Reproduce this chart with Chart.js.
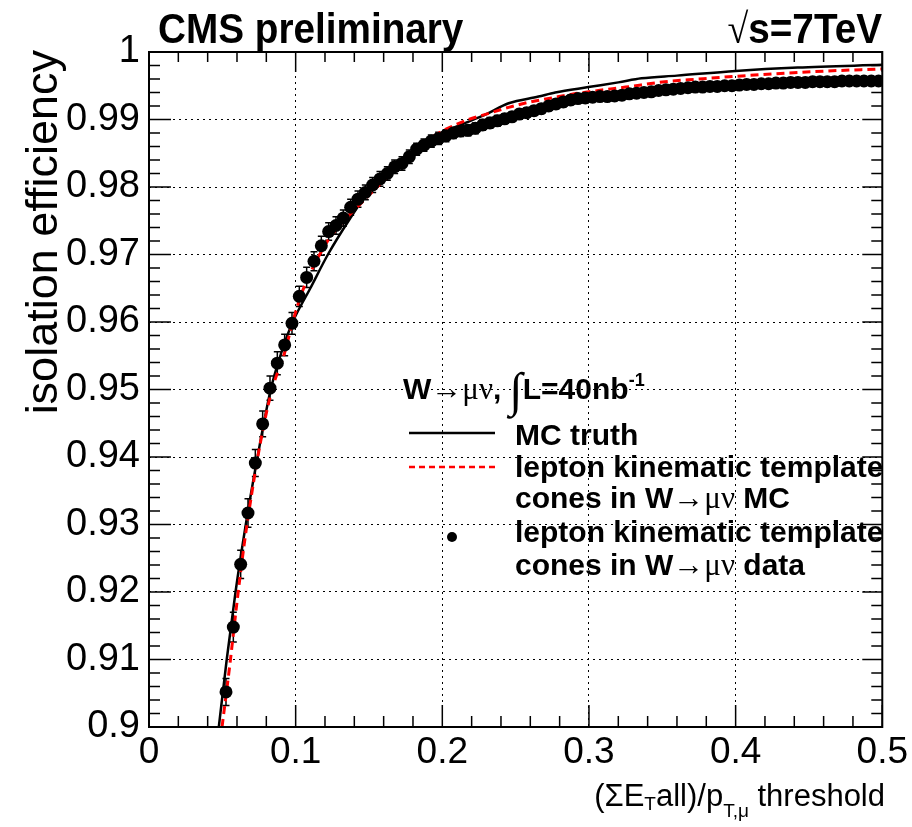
<!DOCTYPE html>
<html>
<head>
<meta charset="utf-8">
<script src="https://cdn.jsdelivr.net/npm/chart.js@4.4.1/dist/chart.umd.min.js"></script>
<style>
  html, body { margin: 0; padding: 0; background: #fff; }
</style>
</head>
<body>
<canvas id="myChart" width="912" height="827"></canvas>
<script>
// data points (lepton kinematic template cones in W->mu nu data)
const dataX = [0.0525, 0.0575, 0.0625, 0.0675, 0.0725, 0.0775, 0.0825, 0.0875, 0.0925, 0.0975,
  0.1025, 0.1075, 0.1125, 0.1175, 0.1225, 0.1275, 0.1325, 0.1375, 0.1425, 0.1475,
  0.1525, 0.1575, 0.1625, 0.1675, 0.1725, 0.1775, 0.1825, 0.1875, 0.1925, 0.1975,
  0.2025, 0.2075, 0.2125, 0.2175, 0.2225, 0.2275, 0.2325, 0.2375, 0.2425, 0.2475,
  0.2525, 0.2575, 0.2625, 0.2675, 0.2725, 0.2775, 0.2825, 0.2875, 0.2925, 0.2975,
  0.3025, 0.3075, 0.3125, 0.3175, 0.3225, 0.3275, 0.3325, 0.3375, 0.3425, 0.3475,
  0.3525, 0.3575, 0.3625, 0.3675, 0.3725, 0.3775, 0.3825, 0.3875, 0.3925, 0.3975,
  0.4025, 0.4075, 0.4125, 0.4175, 0.4225, 0.4275, 0.4325, 0.4375, 0.4425, 0.4475,
  0.4525, 0.4575, 0.4625, 0.4675, 0.4725, 0.4775, 0.4825, 0.4875, 0.4925, 0.4975];
const dataY = [0.9052, 0.9148, 0.9241, 0.9317, 0.9391, 0.9449, 0.9502, 0.9539, 0.9566, 0.9598,
  0.9638, 0.9666, 0.9690, 0.9713, 0.9734, 0.9743, 0.9754, 0.9770, 0.9782, 0.9792,
  0.9803, 0.9812, 0.9820, 0.9830, 0.9835, 0.9845, 0.9856, 0.9862, 0.9868, 0.9872,
  0.9876, 0.9880, 0.9883, 0.9884, 0.9887, 0.9892, 0.9895, 0.9898, 0.9901, 0.9904,
  0.9908, 0.9910, 0.9913, 0.9916, 0.9920, 0.9923, 0.9926, 0.9929, 0.9931, 0.9932,
  0.9933, 0.9934, 0.9934, 0.9935, 0.9936, 0.9938, 0.9939, 0.9940, 0.9941, 0.9943,
  0.9944, 0.9945, 0.9946, 0.9947, 0.9948, 0.9948, 0.9949, 0.9949, 0.9950, 0.9950,
  0.9951, 0.9952, 0.9952, 0.9953, 0.9953, 0.9954, 0.9954, 0.9955, 0.9955, 0.9955,
  0.9956, 0.9956, 0.9956, 0.9956, 0.9957, 0.9957, 0.9957, 0.9957, 0.9957, 0.9957];
const dataErr = [0.0020, 0.0022, 0.0021, 0.0021, 0.0020, 0.0019, 0.0018, 0.0017, 0.0016, 0.0016,
  0.0015, 0.0015, 0.0014, 0.0014, 0.0013, 0.0013, 0.0012, 0.0012, 0.0012, 0.0011,
  0.0011, 0.0011, 0.0010, 0.0010, 0.0010, 0.0010, 0.0009, 0.0009, 0.0009, 0.0009,
  0.0009, 0.0008, 0.0008, 0.0008, 0.0008, 0.0008, 0.0008, 0.0008, 0.0007, 0.0007,
  0.0007, 0.0007, 0.0007, 0.0007, 0.0007, 0.0007, 0.0007, 0.0007, 0.0007, 0.0007,
  0.0006, 0.0006, 0.0006, 0.0006, 0.0006, 0.0006, 0.0006, 0.0006, 0.0006, 0.0006,
  0.0006, 0.0006, 0.0006, 0.0006, 0.0006, 0.0006, 0.0006, 0.0006, 0.0006, 0.0006,
  0.0005, 0.0005, 0.0005, 0.0005, 0.0005, 0.0005, 0.0005, 0.0005, 0.0005, 0.0005,
  0.0005, 0.0005, 0.0005, 0.0005, 0.0005, 0.0005, 0.0005, 0.0005, 0.0005, 0.0005];

// MC truth curve
const truthX = [0.0476, 0.0530, 0.0590, 0.0660, 0.0740, 0.0830, 0.0900, 0.0980, 0.1100, 0.1220,
  0.1370, 0.1520, 0.1650, 0.1800, 0.1900, 0.2000, 0.2180, 0.2300, 0.2452, 0.2656,
  0.2770, 0.2996, 0.3200, 0.3358, 0.3600, 0.4000, 0.4423, 0.5000];
const truthY = [0.9000, 0.9100, 0.9200, 0.9300, 0.9400, 0.9500, 0.9553, 0.9600, 0.9650, 0.9700,
  0.9753, 0.9800, 0.9830, 0.9853, 0.9868, 0.9880, 0.9897, 0.9908, 0.9924, 0.9934,
  0.9940, 0.9948, 0.9955, 0.9961, 0.9965, 0.9972, 0.9977, 0.9981];

// lepton kinematic template cones in W->mu nu MC
const templX = [0.0498, 0.055, 0.060, 0.065, 0.070, 0.075, 0.080, 0.085, 0.0924, 0.098,
  0.1037, 0.1094, 0.1218, 0.1332, 0.1433, 0.150, 0.157, 0.165, 0.175, 0.185,
  0.1977, 0.210, 0.218, 0.230, 0.2452, 0.260, 0.2747, 0.290, 0.3064, 0.325,
  0.3517, 0.375, 0.400, 0.4536, 0.500];
const templY = [0.9000, 0.9090, 0.9185, 0.9272, 0.9345, 0.9410, 0.9465, 0.9508, 0.9554, 0.9600,
  0.9640, 0.9670, 0.9720, 0.9751, 0.9773, 0.9788, 0.9803, 0.9820, 0.9840, 0.9860,
  0.9880, 0.9893, 0.9900, 0.9908, 0.9918, 0.9926, 0.9932, 0.9938, 0.9943, 0.9948,
  0.9956, 0.9960, 0.9964, 0.9971, 0.9975];

const xTickValues = [0, 0.1, 0.2, 0.3, 0.4, 0.5];
const xTickLabels = ['0', '0.1', '0.2', '0.3', '0.4', '0.5'];
const yTickValues = [0.9, 0.91, 0.92, 0.93, 0.94, 0.95, 0.96, 0.97, 0.98, 0.99, 1];
const yTickLabels = ['0.9', '0.91', '0.92', '0.93', '0.94', '0.95', '0.96', '0.97', '0.98', '0.99', '1'];

const SANS = '"Liberation Sans", Arial, Helvetica, sans-serif';
const SERIF = '"Liberation Serif", "Times New Roman", serif';

function toPoints(xs, ys) {
    return xs.map((v, i) => ({ x: v, y: ys[i] }));
}

// draw a row of text pieces with different fonts
function runWidth(ctx, runs) {
    let w = 0;
    runs.forEach(r => { ctx.font = r.f; w += ctx.measureText(r.t).width; });
    return w;
}
function drawRuns(ctx, x, y, runs) {
    runs.forEach(r => {
        ctx.font = r.f;
        ctx.fillText(r.t, x, y + (r.dy || 0));
        x += ctx.measureText(r.t).width;
    });
}

// ROOT-like frame, ticks, error bars and texts
const rootStyle = {
    id: 'rootStyle',
    beforeDatasetsDraw(chart) {
        const { ctx, scales: { x, y } } = chart;
        ctx.save();
        ctx.strokeStyle = '#000';
        ctx.lineWidth = 1.5;
        dataX.forEach((v, i) => {
            const px = x.getPixelForValue(v);
            const top = y.getPixelForValue(dataY[i] + dataErr[i]);
            const bot = y.getPixelForValue(dataY[i] - dataErr[i]);
            ctx.beginPath();
            ctx.moveTo(px, top); ctx.lineTo(px, bot);
            ctx.moveTo(px - 3.5, top); ctx.lineTo(px + 3.5, top);
            ctx.moveTo(px - 3.5, bot); ctx.lineTo(px + 3.5, bot);
            ctx.stroke();
        });
        ctx.restore();
    },
    afterDraw(chart) {
        const { ctx, chartArea: a, scales: { x, y } } = chart;
        ctx.save();
        ctx.strokeStyle = '#000';
        ctx.fillStyle = '#000';

        // ticks
        ctx.lineWidth = 1.5;
        ctx.beginPath();
        for (let i = 0; i <= 25; i++) {
            const px = x.getPixelForValue(i * 0.02);
            const big = i % 5 === 0;
            ctx.moveTo(px, a.bottom); ctx.lineTo(px, a.bottom - (big ? 22 : 11));
            ctx.moveTo(px, a.top); ctx.lineTo(px, a.top + (big ? 20 : 10));
        }
        for (let i = 0; i <= 50; i++) {
            const py = y.getPixelForValue(0.9 + i * 0.002);
            const big = i % 5 === 0;
            ctx.moveTo(a.left, py); ctx.lineTo(a.left + (big ? 22 : 11), py);
            ctx.moveTo(a.right, py); ctx.lineTo(a.right - (big ? 20 : 11), py);
        }
        ctx.stroke();

        // frame
        ctx.lineWidth = 2;
        ctx.strokeRect(a.left, a.top, a.right - a.left, a.bottom - a.top);

        // header (slightly condensed like the original)
        ctx.textBaseline = 'alphabetic';
        ctx.textAlign = 'left';
        ctx.save();
        ctx.translate(158, 43);
        ctx.scale(0.9, 1);
        ctx.font = 'bold 43px ' + SANS;
        ctx.fillText('CMS preliminary', 0, 0);
        ctx.restore();
        const rs = [{ t: '\u221A', f: '42px ' + SERIF }, { t: 's=7TeV', f: 'bold 43px ' + SANS }];
        ctx.save();
        ctx.translate(882, 43);
        ctx.scale(0.9, 1);
        drawRuns(ctx, -runWidth(ctx, rs), 0, rs);
        ctx.restore();

        // y title
        ctx.save();
        ctx.translate(57, 50);
        ctx.rotate(-Math.PI / 2);
        ctx.textAlign = 'right';
        ctx.font = '45px ' + SANS;
        ctx.fillText('isolation efficiency', 0, 0);
        ctx.restore();

        // x title
        const xt = [
            { t: '(\u03A3E', f: '31px ' + SANS },
            { t: 'T', f: '19px ' + SANS, dy: 4 },
            { t: 'all)/p', f: '31px ' + SANS },
            { t: 'T,\u03BC', f: '19px ' + SANS, dy: 11 },
            { t: ' threshold', f: '31px ' + SANS }
        ];
        drawRuns(ctx, 885 - runWidth(ctx, xt), 806, xt);

        // legend
        const B = 'bold 30px ' + SANS;
        const G = '31px ' + SERIF;
        drawRuns(ctx, 403, 399, [
            { t: 'W', f: B }, { t: '\u2192\u03BC\u03BD', f: G }, { t: ', ', f: B },
            { t: '\u222B', f: '48px ' + SERIF, dy: 7 }, { t: 'L=40nb', f: B },
            { t: '-1', f: 'bold 18px ' + SANS, dy: -13 }
        ]);
        drawRuns(ctx, 515, 445, [{ t: 'MC truth', f: B }]);
        drawRuns(ctx, 515, 477, [{ t: 'lepton kinematic template', f: B }]);
        drawRuns(ctx, 515, 508, [{ t: 'cones in W', f: B }, { t: '\u2192\u03BC\u03BD', f: G }, { t: ' MC', f: B }]);
        drawRuns(ctx, 515, 542, [{ t: 'lepton kinematic template', f: B }]);
        drawRuns(ctx, 515, 575, [{ t: 'cones in W', f: B }, { t: '\u2192\u03BC\u03BD', f: G }, { t: ' data', f: B }]);

        ctx.lineWidth = 2.5;
        ctx.beginPath();
        ctx.moveTo(409, 433); ctx.lineTo(495, 433);
        ctx.stroke();
        ctx.strokeStyle = '#ff0000';
        ctx.setLineDash([6, 4]);
        ctx.beginPath();
        ctx.moveTo(409, 467); ctx.lineTo(495, 467);
        ctx.stroke();
        ctx.setLineDash([]);
        ctx.beginPath();
        ctx.arc(452, 537, 5, 0, Math.PI * 2);
        ctx.fill();
        ctx.restore();
    }
};

const config = {
    type: 'scatter',
    data: {
        datasets: [{
            label: 'lepton kinematic template cones in W\u2192\u03BC\u03BD data',
            data: toPoints(dataX, dataY),
            backgroundColor: '#000',
            borderWidth: 0,
            pointRadius: 6.5,
            order: 0
        }, {
            label: 'lepton kinematic template cones in W\u2192\u03BC\u03BD MC',
            type: 'line',
            data: toPoints(templX, templY),
            borderColor: '#ff0000',
            borderWidth: 3,
            borderDash: [8, 5],
            pointRadius: 0,
            cubicInterpolationMode: 'monotone',
            fill: false,
            order: 1
        }, {
            label: 'MC truth',
            type: 'line',
            data: toPoints(truthX, truthY),
            borderColor: '#000',
            borderWidth: 2.5,
            pointRadius: 0,
            cubicInterpolationMode: 'monotone',
            fill: false,
            order: 2
        }]
    },
    options: {
        responsive: false,
        animation: false,
        events: [],
        layout: { padding: { top: 52, right: 27, left: 0, bottom: 0 } },
        plugins: { legend: { display: false }, tooltip: { enabled: false } },
        scales: {
            x: {
                type: 'linear',
                min: 0,
                max: 0.5,
                afterFit: s => { s.height = 100; },
                afterBuildTicks: s => { s.ticks = xTickValues.map(v => ({ value: v })); },
                ticks: {
                    autoSkip: false,
                    maxRotation: 0,
                    padding: 4,
                    color: '#000',
                    font: { family: SANS, size: 37 },
                    callback: (v, i) => xTickLabels[i]
                },
                grid: { color: '#000', lineWidth: 1, drawTicks: false },
                border: { display: false, dash: [2, 4] }
            },
            y: {
                type: 'linear',
                min: 0.9,
                max: 1,
                afterFit: s => { s.width = 149; },
                afterBuildTicks: s => { s.ticks = yTickValues.map(v => ({ value: v })); },
                ticks: {
                    autoSkip: false,
                    padding: 9,
                    color: '#000',
                    font: { family: SANS, size: 38 },
                    callback: (v, i) => yTickLabels[i]
                },
                grid: { color: '#000', lineWidth: 1, drawTicks: false },
                border: { display: false, dash: [2, 4] }
            }
        }
    },
    plugins: [rootStyle]
};

var myChart = new Chart(document.getElementById('myChart'), config);
</script>
</body>
</html>
